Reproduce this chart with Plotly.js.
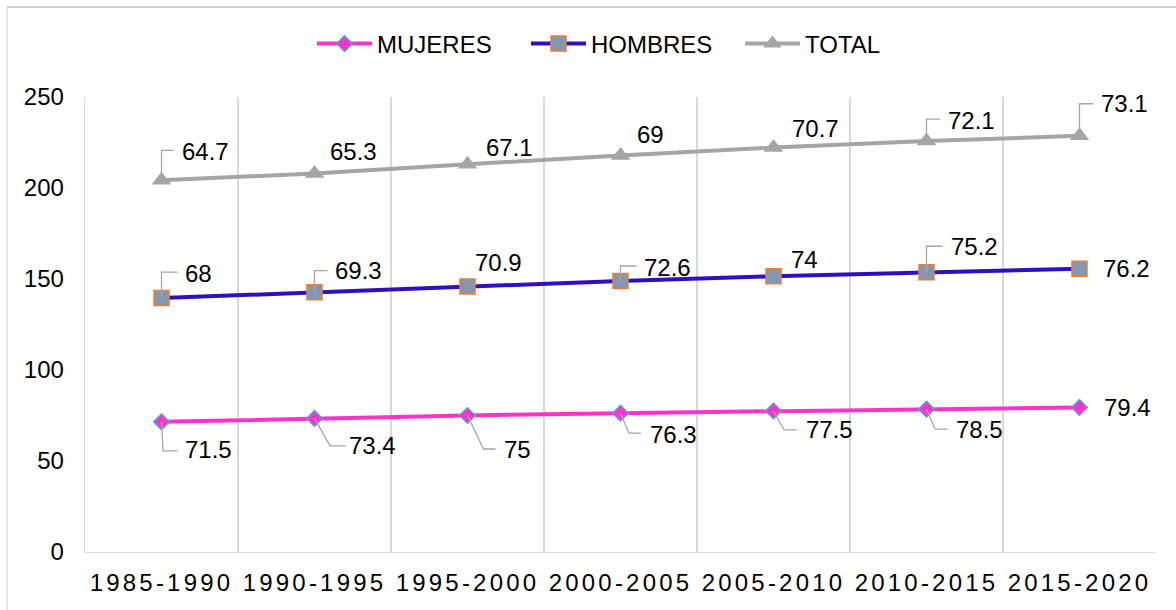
<!DOCTYPE html>
<html>
<head>
<meta charset="utf-8">
<script src="https://cdn.plot.ly/plotly-3.0.1.min.js"></script>
<style>
  html, body { margin: 0; padding: 0; background: #fff; }
  #chart { width: 1176px; height: 610px; }
  #chart .xtick text { letter-spacing: 3.2px; }
</style>
</head>
<body>
<div id="chart"></div>
<script>
// ---- data ----
const categories = ['1985-1990', '1990-1995', '1995-2000', '2000-2005', '2005-2010', '2010-2015', '2015-2020'];
const mujeres = [71.5, 73.4, 75, 76.3, 77.5, 78.5, 79.4];
const hombres = [68, 69.3, 70.9, 72.6, 74, 75.2, 76.2];
const total   = [64.7, 65.3, 67.1, 69, 70.7, 72.1, 73.1];
const seriesNames = ['MUJERES', 'HOMBRES', 'TOTAL'];

// ---- label placement (pixels relative to the point: dx right, dy down) ----
const labelOffsetsMujeres = [[24.5, 28], [35.5, 27], [37, 34], [30, 21], [33.5, 19], [30, 20], [25.5, 0]];
const labelOffsetsHombres = [[24.5, -25], [21.5, -22], [8, -24], [24, -14], [18, -17], [25, -25.6], [24.5, 0]];
const labelOffsetsTotal   = [[21.5, -29], [16.5, -22], [19.5, -17], [17, -21], [19.5, -19], [22.5, -21], [22.5, -32]];
const leadersMujeres = [
  [[0,0],[1.5,29],[16,29]], [[0,0],[15.5,27.5],[31.5,27.5]], [[0,0],[16,33.5],[28,33.5]],
  [[0,0],[8.5,20],[20.5,20]], [[0,0],[10.5,19],[23.5,19]], [[0,0],[8.5,20],[21,20]], null];
const leadersHombres = [
  [[0,0],[0,-26],[16,-26]], [[0,0],[0,-21.6],[13,-21.6]], null,
  [[0,0],[0,-15],[16,-15]], null, [[0,0],[0,-26],[16,-26]], null];
const leadersTotal = [
  [[0,0],[0,-30],[12.5,-30]], null, null, null, null,
  [[0,-4],[0,-22],[13.5,-22]], [[0,-4],[0,-32],[13.5,-32]]];

// cumulative (stacked) positions for labels
const cum1 = mujeres.slice();
const cum2 = mujeres.map((v, i) => v + hombres[i]);
const cum3 = cum2.map((v, i) => v + total[i]);

const FONT = 'Liberation Sans, Arial, Helvetica, sans-serif';

const traces = [
  {
    name: seriesNames[0], x: categories, y: mujeres, type: 'scatter', mode: 'lines+markers',
    stackgroup: 'one', fill: 'none',
    line: { color: '#ff33cc', width: 4 },
    marker: { symbol: 'diamond', size: 12, color: '#ff33cc', line: { color: '#5b9bd5', width: 1.5 } },
    hoverinfo: 'skip'
  },
  {
    name: seriesNames[1], x: categories, y: hombres, type: 'scatter', mode: 'lines+markers',
    stackgroup: 'one', fill: 'none',
    line: { color: '#2f0fc0', width: 4 },
    marker: { symbol: 'square', size: 15, color: '#8497b0', line: { color: '#ed7d31', width: 1.5 } },
    hoverinfo: 'skip'
  },
  {
    name: seriesNames[2], x: categories, y: total, type: 'scatter', mode: 'lines+markers',
    stackgroup: 'one', fill: 'none',
    line: { color: '#a5a5a5', width: 4 },
    marker: { symbol: 'triangle-up', size: 17, color: '#a5a5a5', line: { width: 0 } },
    hoverinfo: 'skip'
  }
];

const annotations = [];
const shapes = [];
function addLabels(vals, cum, offsets, leaders) {
  vals.forEach((v, i) => {
    const off = offsets[i];
    annotations.push({
      x: categories[i], y: cum[i], xref: 'x', yref: 'y',
      text: String(v), showarrow: false,
      xanchor: 'left', yanchor: 'middle',
      xshift: off[0] - 3, yshift: -off[1],
      font: { family: FONT, size: 24, color: '#000000' }
    });
    const ld = leaders[i];
    if (ld) {
      const path = ld.map((p, k) => (k === 0 ? 'M' : 'L') + p[0] + ',' + (-p[1])).join(' ');
      shapes.push({
        type: 'path', xref: 'x', yref: 'y', xsizemode: 'pixel', ysizemode: 'pixel',
        xanchor: categories[i], yanchor: cum[i], path: path,
        line: { color: '#a6a6a6', width: 1.3 }, layer: 'above'
      });
    }
  });
}
addLabels(mujeres, cum1, labelOffsetsMujeres, leadersMujeres);
addLabels(hombres, cum2, labelOffsetsHombres, leadersHombres);
addLabels(total, cum3, labelOffsetsTotal, leadersTotal);

// outer chart border
shapes.push({ type: 'line', xref: 'paper', yref: 'paper', x0: (7 - 85) / 1071, x1: 1.1, y0: (552 - 7) / 455, y1: (552 - 7) / 455,
  line: { color: '#a0a0a0', width: 1 }, layer: 'above' });
shapes.push({ type: 'line', xref: 'paper', yref: 'paper', x0: (7 - 85) / 1071, x1: (7 - 85) / 1071, y0: (552 - 7) / 455, y1: -0.2,
  line: { color: '#d9d9d9', width: 1.3 }, layer: 'above' });

const layout = {
  width: 1176, height: 610,
  margin: { l: 85, r: 20, t: 97, b: 58 },
  paper_bgcolor: '#ffffff', plot_bgcolor: '#ffffff',
  font: { family: FONT, size: 24, color: '#000000' },
  showlegend: true,
  legend: {
    orientation: 'h', xref: 'paper', yref: 'container',
    x: (312 - 85) / 1071, xanchor: 'left', y: 1 - 44 / 610, yanchor: 'middle',
    font: { family: FONT, size: 24, color: '#000000' },
    itemwidth: 55,
    entrywidth: 144, bgcolor: 'rgba(0,0,0,0)'
  },
  xaxis: {
    type: 'category', range: [-0.5, 6.5], tickson: 'boundaries',
    showgrid: true, gridcolor: '#d9d9d9', gridwidth: 1.3,
    showline: true, linecolor: '#d9d9d9', linewidth: 1.3,
    ticks: '', ticklabelstandoff: 9,
    tickfont: { family: FONT, size: 24, color: '#000000' },
    fixedrange: true, zeroline: false
  },
  yaxis: {
    range: [0, 250], dtick: 50, tick0: 0,
    showgrid: false, zeroline: false, showline: true, linecolor: '#d9d9d9', linewidth: 1.3,
    ticks: '', ticklabelstandoff: 15,
    tickfont: { family: FONT, size: 24, color: '#000000' },
    fixedrange: true
  },
  annotations: annotations,
  shapes: shapes,
  hovermode: false
};

Plotly.newPlot('chart', traces, layout, { displayModeBar: false, staticPlot: true });
</script>
</body>
</html>
